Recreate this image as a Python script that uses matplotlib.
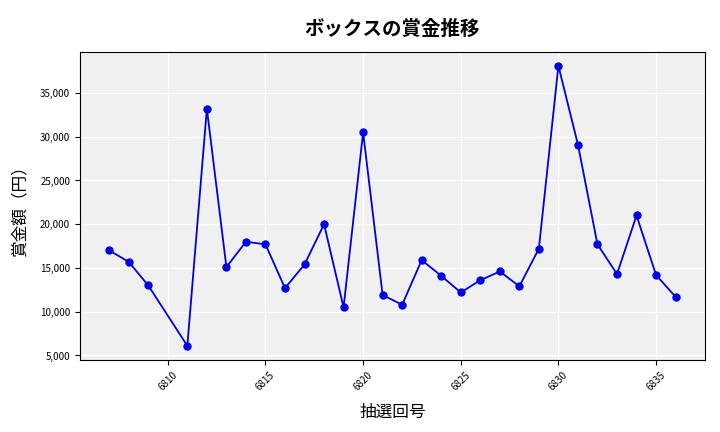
import matplotlib.pyplot as plt
from matplotlib.ticker import FuncFormatter

plt.rcParams['font.family'] = ['Noto Sans CJK JP', 'DejaVu Sans']

draws = [6807, 6808, 6809, 6811, 6812, 6813, 6814, 6815, 6816, 6817, 6818, 6819,
         6820, 6821, 6822, 6823, 6824, 6825, 6826, 6827, 6828, 6829, 6830, 6831,
         6832, 6833, 6834, 6835, 6836]
prizes = [17000, 15700, 13000, 6100, 33200, 15100, 18000, 17700, 12700, 15400,
          20000, 10500, 30500, 11900, 10800, 15900, 14100, 12200, 13600, 14600,
          12900, 17200, 38100, 29100, 17700, 14300, 21000, 14200, 11700]

fig = plt.figure(figsize=(7.2, 4.32), dpi=100)
ax = fig.add_axes([0.111, 0.167, 0.868, 0.713])
ax.set_facecolor('#f0f0f0')
ax.grid(True, color='white', linewidth=1)
ax.set_axisbelow(True)
ax.plot(draws, prizes, color='#0000dd', marker='o', markersize=5, linewidth=1.3,
        markerfacecolor='#0000ee')
ax.set_title('ボックスの賞金推移', fontsize=14, fontweight='bold', pad=12)
ax.set_xlabel('抽選回号', fontsize=12, labelpad=8)
ax.set_ylabel('賞金額（円）', fontsize=12, labelpad=8)
ax.yaxis.set_major_formatter(FuncFormatter(lambda v, p: f'{int(v):,}'))
ax.set_xticks(range(6810, 6836, 5))
ax.tick_params(axis='x', labelsize=7, rotation=45)
ax.tick_params(axis='y', labelsize=7)
ax.set_xlim(6805.5, 6837.5)
ax.set_ylim(4500, 39700)
fig.savefig('out.png', dpi=100)
